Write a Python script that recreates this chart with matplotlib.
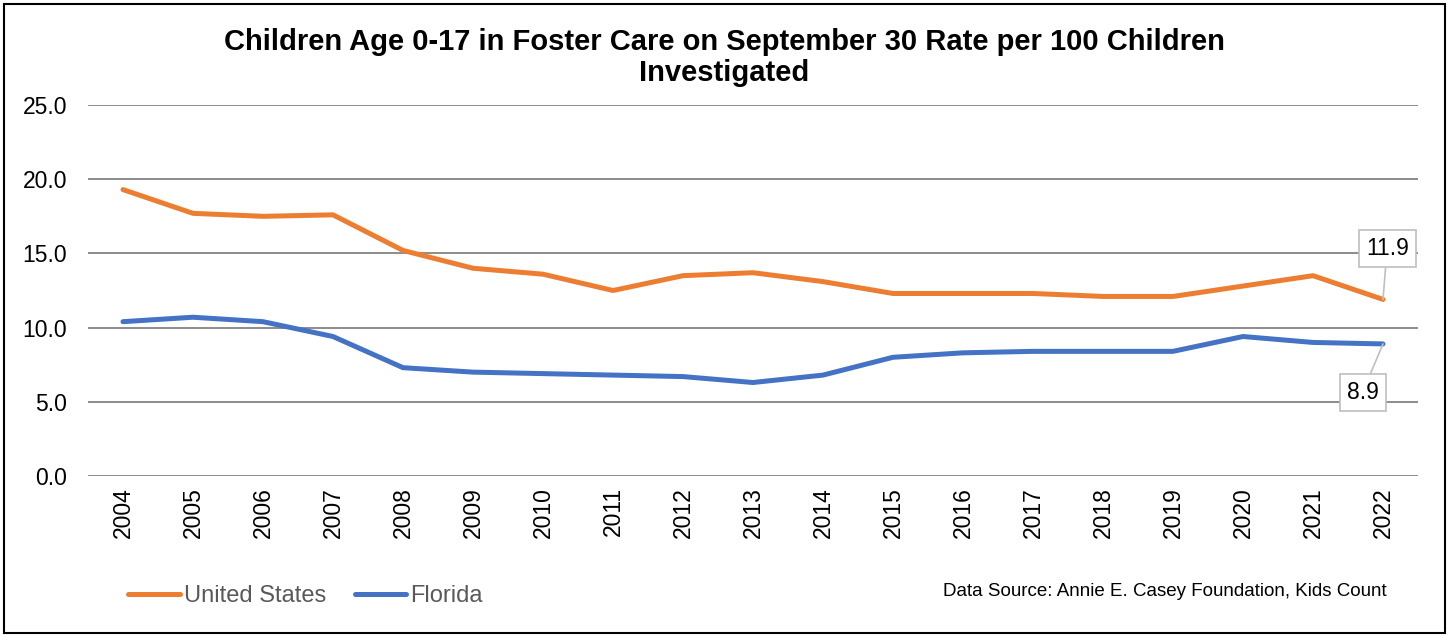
import matplotlib.pyplot as plt
from matplotlib.patches import Rectangle

plt.rcParams['font.family'] = ['Liberation Sans', 'DejaVu Sans']

years = [str(y) for y in range(2004, 2023)]
us = [19.3, 17.7, 17.5, 17.6, 15.2, 14.0, 13.6, 12.5, 13.5, 13.7,
      13.1, 12.3, 12.3, 12.3, 12.1, 12.1, 12.8, 13.5, 11.9]
florida = [10.4, 10.7, 10.4, 9.4, 7.3, 7.0, 6.9, 6.8, 6.7, 6.3,
           6.8, 8.0, 8.3, 8.4, 8.4, 8.4, 9.4, 9.0, 8.9]
yticks = [0, 5, 10, 15, 20, 25]

fig = plt.figure(figsize=(14.49, 6.35), dpi=100)
ax = fig.add_axes([0.0607, 0.2504, 0.9179, 0.5842])

x = list(range(len(years)))
ax.plot(x, us, color='#ED7D31', lw=3.6, solid_capstyle='round', label='United States', zorder=3)
ax.plot(x, florida, color='#4472C4', lw=3.6, solid_capstyle='round', label='Florida', zorder=3)

ax.set_xlim(-0.5, len(years) - 0.5)
ax.set_ylim(0, 25)
ax.set_yticks(yticks)
ax.set_yticklabels([f'{v:.1f}' for v in yticks], fontsize=16.5)
ax.set_xticks(x)
ax.set_xticklabels(years, rotation=90, fontsize=16.5)
ax.tick_params(length=0)
ax.tick_params(axis='x', pad=8)
ax.tick_params(axis='y', pad=15)
ax.grid(axis='y', color='#8C8C8C', lw=1.4)
ax.set_axisbelow(True)
for s in ax.spines.values():
    s.set_visible(False)

# data labels on last points
box = dict(boxstyle='square,pad=0.3', fc='white', ec='#BFBFBF', lw=1.2)
arrow = dict(arrowstyle='-', color='#BFBFBF', lw=1.2, shrinkA=0, shrinkB=0)
ax.annotate(f'{us[-1]:.1f}', (x[-1], us[-1]), xytext=(x[-1] + 0.06, 15.35),
            ha='center', va='center', fontsize=16.5, bbox=box, arrowprops=arrow, zorder=5)
ax.annotate(f'{florida[-1]:.1f}', (x[-1], florida[-1]), xytext=(x[-1] - 0.29, 5.65),
            ha='center', va='center', fontsize=16.5, bbox=box, arrowprops=arrow, zorder=5)

fig.suptitle('Children Age 0-17 in Foster Care on September 30 Rate per 100 Children\nInvestigated',
             y=0.956, fontsize=21, fontweight='bold', linespacing=1.15)

leg = fig.legend(loc='center left', bbox_to_anchor=(0.074, 0.061), ncol=2, frameon=False,
                 fontsize=17, handlelength=2.2, handletextpad=0.15, columnspacing=1.2)
for t in leg.get_texts():
    t.set_color('#595959')

fig.text(0.957, 0.069, 'Data Source: Annie E. Casey Foundation, Kids Count',
         ha='right', va='center', fontsize=13.5)

fig.patches.append(Rectangle((0.003, 0.003), 0.994, 0.991, transform=fig.transFigure,
                             fill=False, ec='black', lw=1.5))

fig.savefig('out.png', dpi=100)
